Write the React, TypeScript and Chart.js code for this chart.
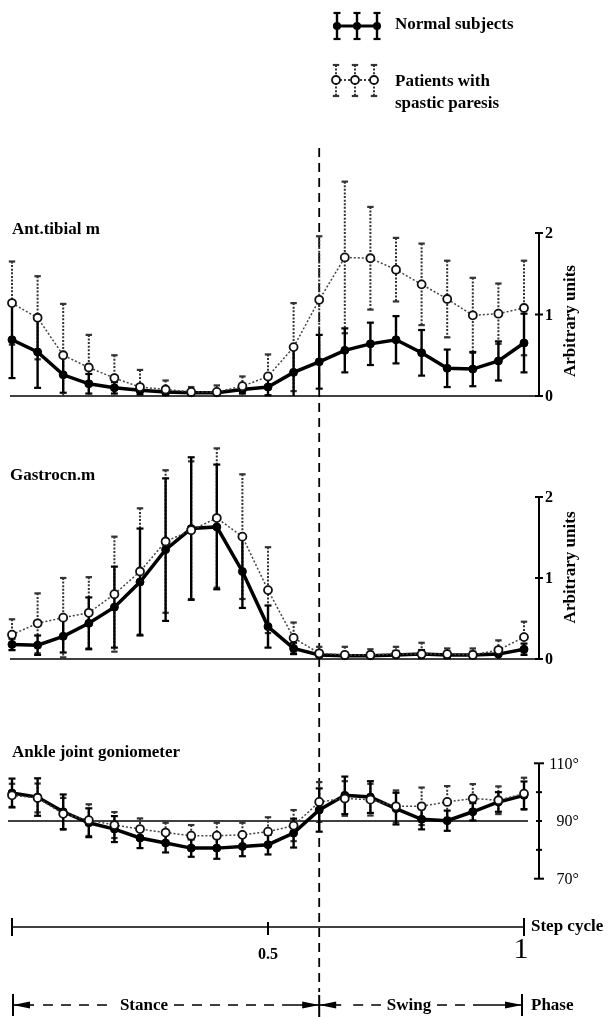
import React, { useEffect, useRef } from 'react';
import { Chart, registerables } from 'chart.js';

Chart.register(...registerables);

// ---------- data ----------
const phase = [0, 0.05, 0.1, 0.15, 0.2, 0.25, 0.3, 0.35, 0.4, 0.45, 0.5, 0.55, 0.6, 0.65, 0.7, 0.75, 0.8, 0.85, 0.9, 0.95, 1];

const tibNormal = [0.69, 0.54, 0.26, 0.15, 0.1, 0.07, 0.05, 0.04, 0.04, 0.08, 0.11, 0.29, 0.42, 0.56, 0.64, 0.69, 0.53, 0.34, 0.33, 0.43, 0.65];
const tibNormalSd = [0.47, 0.44, 0.22, 0.12, 0.07, 0.05, 0.04, 0.03, 0.03, 0.05, 0.1, 0.3, 0.33, 0.27, 0.26, 0.29, 0.28, 0.23, 0.21, 0.24, 0.36];
const tibPatient = [1.14, 0.96, 0.5, 0.35, 0.22, 0.11, 0.08, 0.05, 0.05, 0.12, 0.24, 0.6, 1.18, 1.7, 1.69, 1.55, 1.37, 1.19, 0.99, 1.01, 1.08];
const tibPatientSd = [0.51, 0.51, 0.63, 0.4, 0.28, 0.21, 0.11, 0.06, 0.08, 0.12, 0.27, 0.54, 0.78, 0.93, 0.63, 0.39, 0.5, 0.47, 0.46, 0.37, 0.58];

const gasNormal = [0.18, 0.17, 0.28, 0.44, 0.64, 0.95, 1.35, 1.61, 1.63, 1.08, 0.4, 0.13, 0.05, 0.04, 0.04, 0.05, 0.06, 0.05, 0.05, 0.06, 0.12];
const gasNormalSd = [0.07, 0.12, 0.2, 0.32, 0.5, 0.66, 0.88, 0.88, 0.77, 0.45, 0.26, 0.07, 0.05, 0.04, 0.04, 0.05, 0.05, 0.04, 0.04, 0.06, 0.07];
const gasPatient = [0.3, 0.44, 0.51, 0.57, 0.8, 1.08, 1.45, 1.59, 1.74, 1.51, 0.85, 0.26, 0.07, 0.05, 0.05, 0.06, 0.06, 0.06, 0.05, 0.11, 0.27];
const gasPatientSd = [0.19, 0.37, 0.49, 0.44, 0.71, 0.78, 0.88, 0.85, 0.86, 0.77, 0.53, 0.19, 0.08, 0.1, 0.07, 0.09, 0.14, 0.07, 0.08, 0.12, 0.19];

const ankNormal = [99.7, 98.3, 93.2, 89.4, 87.2, 84.1, 82.4, 80.6, 80.6, 81.2, 81.8, 85.8, 93.8, 98.9, 98.3, 94.3, 90.6, 90.1, 93.2, 96.6, 98.9];
const ankNormalSd = [5, 6.5, 6, 5, 4.5, 3.5, 3.3, 3, 3.7, 3.4, 3.4, 5, 7.5, 6.5, 5.5, 5.5, 3.5, 3.5, 3, 3.4, 4.8];
const ankPatient = [98.9, 98.0, 92.5, 90.3, 88.6, 87.2, 86.0, 84.9, 84.9, 85.2, 86.3, 88.4, 96.6, 97.8, 97.4, 95.1, 95.1, 96.6, 97.8, 97.2, 99.5];
const ankPatientSd = [4, 5, 5.5, 5.5, 4.5, 3.7, 3.4, 3.7, 4.5, 4.2, 5, 5.4, 6.9, 6, 5.5, 5.5, 6.5, 5.5, 5, 4.8, 5.5];

const stepTicks = [0, 0.5, 1];
const stepTickLabels = ['', '0.5', '1'];
const arbTicks = [0, 1, 2];
const arbTickLabels = ['0', '1', '2'];
const angleTicks = [110, 100, 90, 80, 70];
const angleTickLabels = ['110°', '', '90°', '', '70°'];
const swingStart = 0.6;

const legendNormal = 'Normal subjects';
const legendPatient = ['Patients with', 'spastic paresis'];
const titleTib = 'Ant.tibial m';
const titleGas = 'Gastrocn.m';
const titleAnk = 'Ankle joint goniometer';
const unitLabel = 'Arbitrary units';

// ---------- styles ----------
const FONT = '"Liberation Serif", "Times New Roman", serif';
const normalErr = { color: '#000', width: 2.4, dash: [] as number[], cap: 3.5 };
const patientErr = { color: '#333', width: 2, dash: [2, 1.6], cap: 3.2 };

const pts = (ys: number[]) => phase.map((t, i) => ({ x: t, y: ys[i] }));

function line(ctx: CanvasRenderingContext2D, x1: number, y1: number, x2: number, y2: number) {
  ctx.beginPath();
  ctx.moveTo(x1, y1);
  ctx.lineTo(x2, y2);
  ctx.stroke();
}

function errBar(ctx: CanvasRenderingContext2D, st: any, x: number, yT: number, yB: number, capBottom = true) {
  ctx.save();
  ctx.strokeStyle = st.color;
  ctx.lineWidth = st.width;
  ctx.setLineDash(st.dash);
  line(ctx, x, yT, x, yB);
  ctx.setLineDash([]);
  ctx.lineWidth = 2.2;
  line(ctx, x - st.cap, yT, x + st.cap, yT);
  if (capBottom) line(ctx, x - st.cap, yB, x + st.cap, yB);
  ctx.restore();
}

function text(ctx: CanvasRenderingContext2D, s: string, x: number, y: number, font: string, align: CanvasTextAlign = 'left') {
  ctx.save();
  ctx.font = font;
  ctx.fillStyle = '#000';
  ctx.textAlign = align;
  ctx.textBaseline = 'middle';
  ctx.fillText(s, x, y);
  ctx.restore();
}

function arrowHead(ctx: CanvasRenderingContext2D, tipX: number, y: number, dir: number) {
  ctx.beginPath();
  ctx.moveTo(tipX, y);
  ctx.lineTo(tipX - dir * 17, y - 3.5);
  ctx.lineTo(tipX - dir * 17, y + 3.5);
  ctx.closePath();
  ctx.fill();
}

const errorBarPlugin = {
  id: 'errorBars',
  beforeDatasetsDraw(chart: any) {
    const ctx = chart.ctx;
    const xs = chart.scales.x;
    chart.data.datasets.forEach((ds: any) => {
      const ys = chart.scales[ds.yAxisID];
      ds.data.forEach((p: any, i: number) => {
        const sd = ds.errors[i];
        const lo = ds.floorZero ? Math.max(0, p.y - sd) : p.y - sd;
        const x = xs.getPixelForValue(p.x);
        errBar(ctx, ds.errStyle, x, ys.getPixelForValue(p.y + sd), ys.getPixelForValue(lo), !(ds.floorZero && lo === 0));
      });
    });
  },
};

const decorPlugin = {
  id: 'decor',
  beforeDraw(chart: any) {
    const ctx = chart.ctx;
    ctx.save();
    ctx.fillStyle = '#fff';
    ctx.fillRect(0, 0, chart.width, chart.height);
    ctx.restore();
  },
  beforeDatasetsDraw(chart: any) {
    const ctx = chart.ctx;
    const xs = chart.scales.x;
    const yT = chart.scales.yTib;
    const yG = chart.scales.yGas;
    const yA = chart.scales.yAnk;
    const x0 = xs.getPixelForValue(0);
    const x1 = xs.getPixelForValue(1);
    const xm = xs.getPixelForValue(swingStart);
    const axX = 539;
    ctx.save();
    ctx.strokeStyle = '#000';
    ctx.fillStyle = '#000';

    // baselines
    ctx.lineWidth = 1.6;
    line(ctx, x0 - 2, yT.getPixelForValue(0), axX, yT.getPixelForValue(0));
    line(ctx, x0 - 2, yG.getPixelForValue(0), axX, yG.getPixelForValue(0));
    ctx.lineWidth = 1.3;
    line(ctx, x0 - 4, yA.getPixelForValue(90), x1 + 4, yA.getPixelForValue(90));

    // dashed swing-onset line
    ctx.save();
    ctx.lineWidth = 1.8;
    ctx.setLineDash([9, 6]);
    line(ctx, xm, 148, xm, 992);
    ctx.restore();

    // right axes (arbitrary units)
    [yT, yG].forEach((ys: any, k: number) => {
      ctx.lineWidth = 2;
      line(ctx, axX, ys.getPixelForValue(arbTicks[0]), axX, ys.getPixelForValue(arbTicks[arbTicks.length - 1]));
      arbTicks.forEach((v, i) => {
        const y = ys.getPixelForValue(v);
        line(ctx, axX - 4, y, axX + 4, y);
        text(ctx, arbTickLabels[i], axX + 6, y + 1, `bold 16px ${FONT}`);
      });
      ctx.save();
      ctx.translate(571, ys.getPixelForValue(k === 0 ? 0.92 : 1.13));
      ctx.rotate(-Math.PI / 2);
      text(ctx, unitLabel, 0, 0, `bold 17px ${FONT}`, 'center');
      ctx.restore();
    });

    // right axis (angle)
    ctx.lineWidth = 2;
    line(ctx, axX, yA.getPixelForValue(angleTicks[0]), axX, yA.getPixelForValue(angleTicks[angleTicks.length - 1]));
    angleTicks.forEach((v, i) => {
      const y = yA.getPixelForValue(v);
      const end = i === 0 || i === angleTicks.length - 1;
      line(ctx, axX - (end ? 5 : 3), y, axX + (end ? 5 : 3), y);
      if (angleTickLabels[i]) text(ctx, angleTickLabels[i], 579, y + 1, `16px ${FONT}`, 'right');
    });

    // panel titles
    text(ctx, titleTib, 12, 230, `bold 17px ${FONT}`);
    text(ctx, titleGas, 10, 476, `bold 17px ${FONT}`);
    text(ctx, titleAnk, 12, 753, `bold 17px ${FONT}`);

    // step cycle axis
    const sy = 927;
    ctx.lineWidth = 1.6;
    line(ctx, x0, sy, x1, sy);
    stepTicks.forEach((v, i) => {
      const x = xs.getPixelForValue(v);
      const end = i === 0 || i === stepTicks.length - 1;
      ctx.lineWidth = 2;
      line(ctx, x, end ? sy - 9 : sy - 5, x, end ? sy + 9 : sy + 8);
      if (stepTickLabels[i]) {
        const big = stepTickLabels[i] === '1';
        text(ctx, stepTickLabels[i], big ? x - 3 : x, big ? 950 : 955, big ? `30px ${FONT}` : `bold 16px ${FONT}`, 'center');
      }
    });
    text(ctx, 'Step cycle', 531, sy, `bold 17px ${FONT}`);

    // phase row
    const py = 1005;
    ctx.lineWidth = 2;
    line(ctx, x0 + 1, py - 11, x0 + 1, py + 11);
    line(ctx, xm, py - 10, xm, 1017);
    line(ctx, x1 - 2, py - 11, x1 - 2, py + 11);
    arrowHead(ctx, x0 + 1, py, -1);
    arrowHead(ctx, xm, py, 1);
    arrowHead(ctx, xm, py, -1);
    arrowHead(ctx, x1 - 2, py, 1);
    ctx.lineWidth = 1.6;
    line(ctx, x0 + 1, py, x0 + 22, py);
    line(ctx, xm - 37, py, xm, py);
    line(ctx, xm, py, xm + 22, py);
    line(ctx, x1 - 45, py, x1 - 2, py);
    ctx.save();
    ctx.setLineDash([10, 8]);
    line(ctx, x0 + 31, py, 112, py);
    line(ctx, 174, py, xm - 37, py);
    line(ctx, xm + 34, py, 381, py);
    line(ctx, 437, py, x1 - 45, py);
    ctx.restore();
    text(ctx, 'Stance', 144, py + 1, `bold 17px ${FONT}`, 'center');
    text(ctx, 'Swing', 409, py + 1, `bold 17px ${FONT}`, 'center');
    text(ctx, 'Phase', 531, py + 1, `bold 17px ${FONT}`);

    // legend
    const nx = [337, 357, 377];
    ctx.lineWidth = 3;
    line(ctx, 333, 26, 380, 26);
    nx.forEach((x) => {
      errBar(ctx, normalErr, x, 13, 39);
      ctx.beginPath();
      ctx.arc(x, 26, 4, 0, Math.PI * 2);
      ctx.fill();
    });
    text(ctx, legendNormal, 395, 25, `bold 17px ${FONT}`);
    const px = [336, 355, 374];
    ctx.save();
    ctx.lineWidth = 1.5;
    ctx.setLineDash([2, 2]);
    line(ctx, 336, 80, 374, 80);
    ctx.restore();
    px.forEach((x) => {
      errBar(ctx, patientErr, x, 65, 96);
      ctx.save();
      ctx.beginPath();
      ctx.arc(x, 80, 4, 0, Math.PI * 2);
      ctx.fillStyle = '#fff';
      ctx.fill();
      ctx.lineWidth = 1.8;
      ctx.strokeStyle = '#111';
      ctx.stroke();
      ctx.restore();
    });
    text(ctx, legendPatient[0], 395, 82, `bold 17px ${FONT}`);
    text(ctx, legendPatient[1], 395, 104, `bold 17px ${FONT}`);

    ctx.restore();
  },
};

function patientSet(label: string, ys: number[], sd: number[], axis: string, floorZero: boolean) {
  return {
    label,
    data: pts(ys),
    errors: sd,
    errStyle: patientErr,
    floorZero,
    yAxisID: axis,
    clip: false,
    borderColor: '#444',
    borderWidth: 1.5,
    borderDash: [2, 2],
    pointRadius: 4,
    pointBackgroundColor: '#fff',
    pointBorderColor: '#111',
    pointBorderWidth: 1.8,
    tension: 0,
  };
}

function normalSet(label: string, ys: number[], sd: number[], axis: string, floorZero: boolean) {
  return {
    label,
    data: pts(ys),
    errors: sd,
    errStyle: normalErr,
    floorZero,
    yAxisID: axis,
    clip: false,
    borderColor: '#000',
    borderWidth: 3.5,
    pointRadius: 4,
    pointBackgroundColor: '#000',
    pointBorderColor: '#000',
    pointBorderWidth: 1,
    tension: 0,
  };
}

export default function App() {
  const ref = useRef<HTMLCanvasElement>(null);
  useEffect(() => {
    if (!ref.current) return;
    const chart = new Chart(ref.current, {
      type: 'line',
      data: {
        datasets: [
          patientSet('Patients with spastic paresis', tibPatient, tibPatientSd, 'yTib', true),
          patientSet('Patients with spastic paresis', gasPatient, gasPatientSd, 'yGas', true),
          patientSet('Patients with spastic paresis', ankPatient, ankPatientSd, 'yAnk', false),
          normalSet('Normal subjects', tibNormal, tibNormalSd, 'yTib', true),
          normalSet('Normal subjects', gasNormal, gasNormalSd, 'yGas', true),
          normalSet('Normal subjects', ankNormal, ankNormalSd, 'yAnk', false),
        ] as any,
      },
      options: {
        animation: false,
        responsive: false,
        devicePixelRatio: 1,
        events: [],
        layout: { padding: { left: 12, right: 84, top: 140, bottom: 90 } },
        plugins: { legend: { display: false }, tooltip: { enabled: false } },
        scales: {
          x: { type: 'linear', min: 0, max: 1, display: false },
          yTib: { type: 'linear', min: -6.515, max: 3.141, display: false },
          yGas: { type: 'linear', min: -3.309, max: 6.407, display: false },
          yAnk: { type: 'linear', min: 53.26, max: 326.05, display: false },
        },
      } as any,
      plugins: [decorPlugin, errorBarPlugin],
    });
    return () => chart.destroy();
  }, []);
  return (
    <div style={{ position: 'absolute', left: 0, top: 0, width: 608, height: 1017 }}>
      <canvas ref={ref} width={608} height={1017} style={{ display: 'block' }} />
    </div>
  );
}
